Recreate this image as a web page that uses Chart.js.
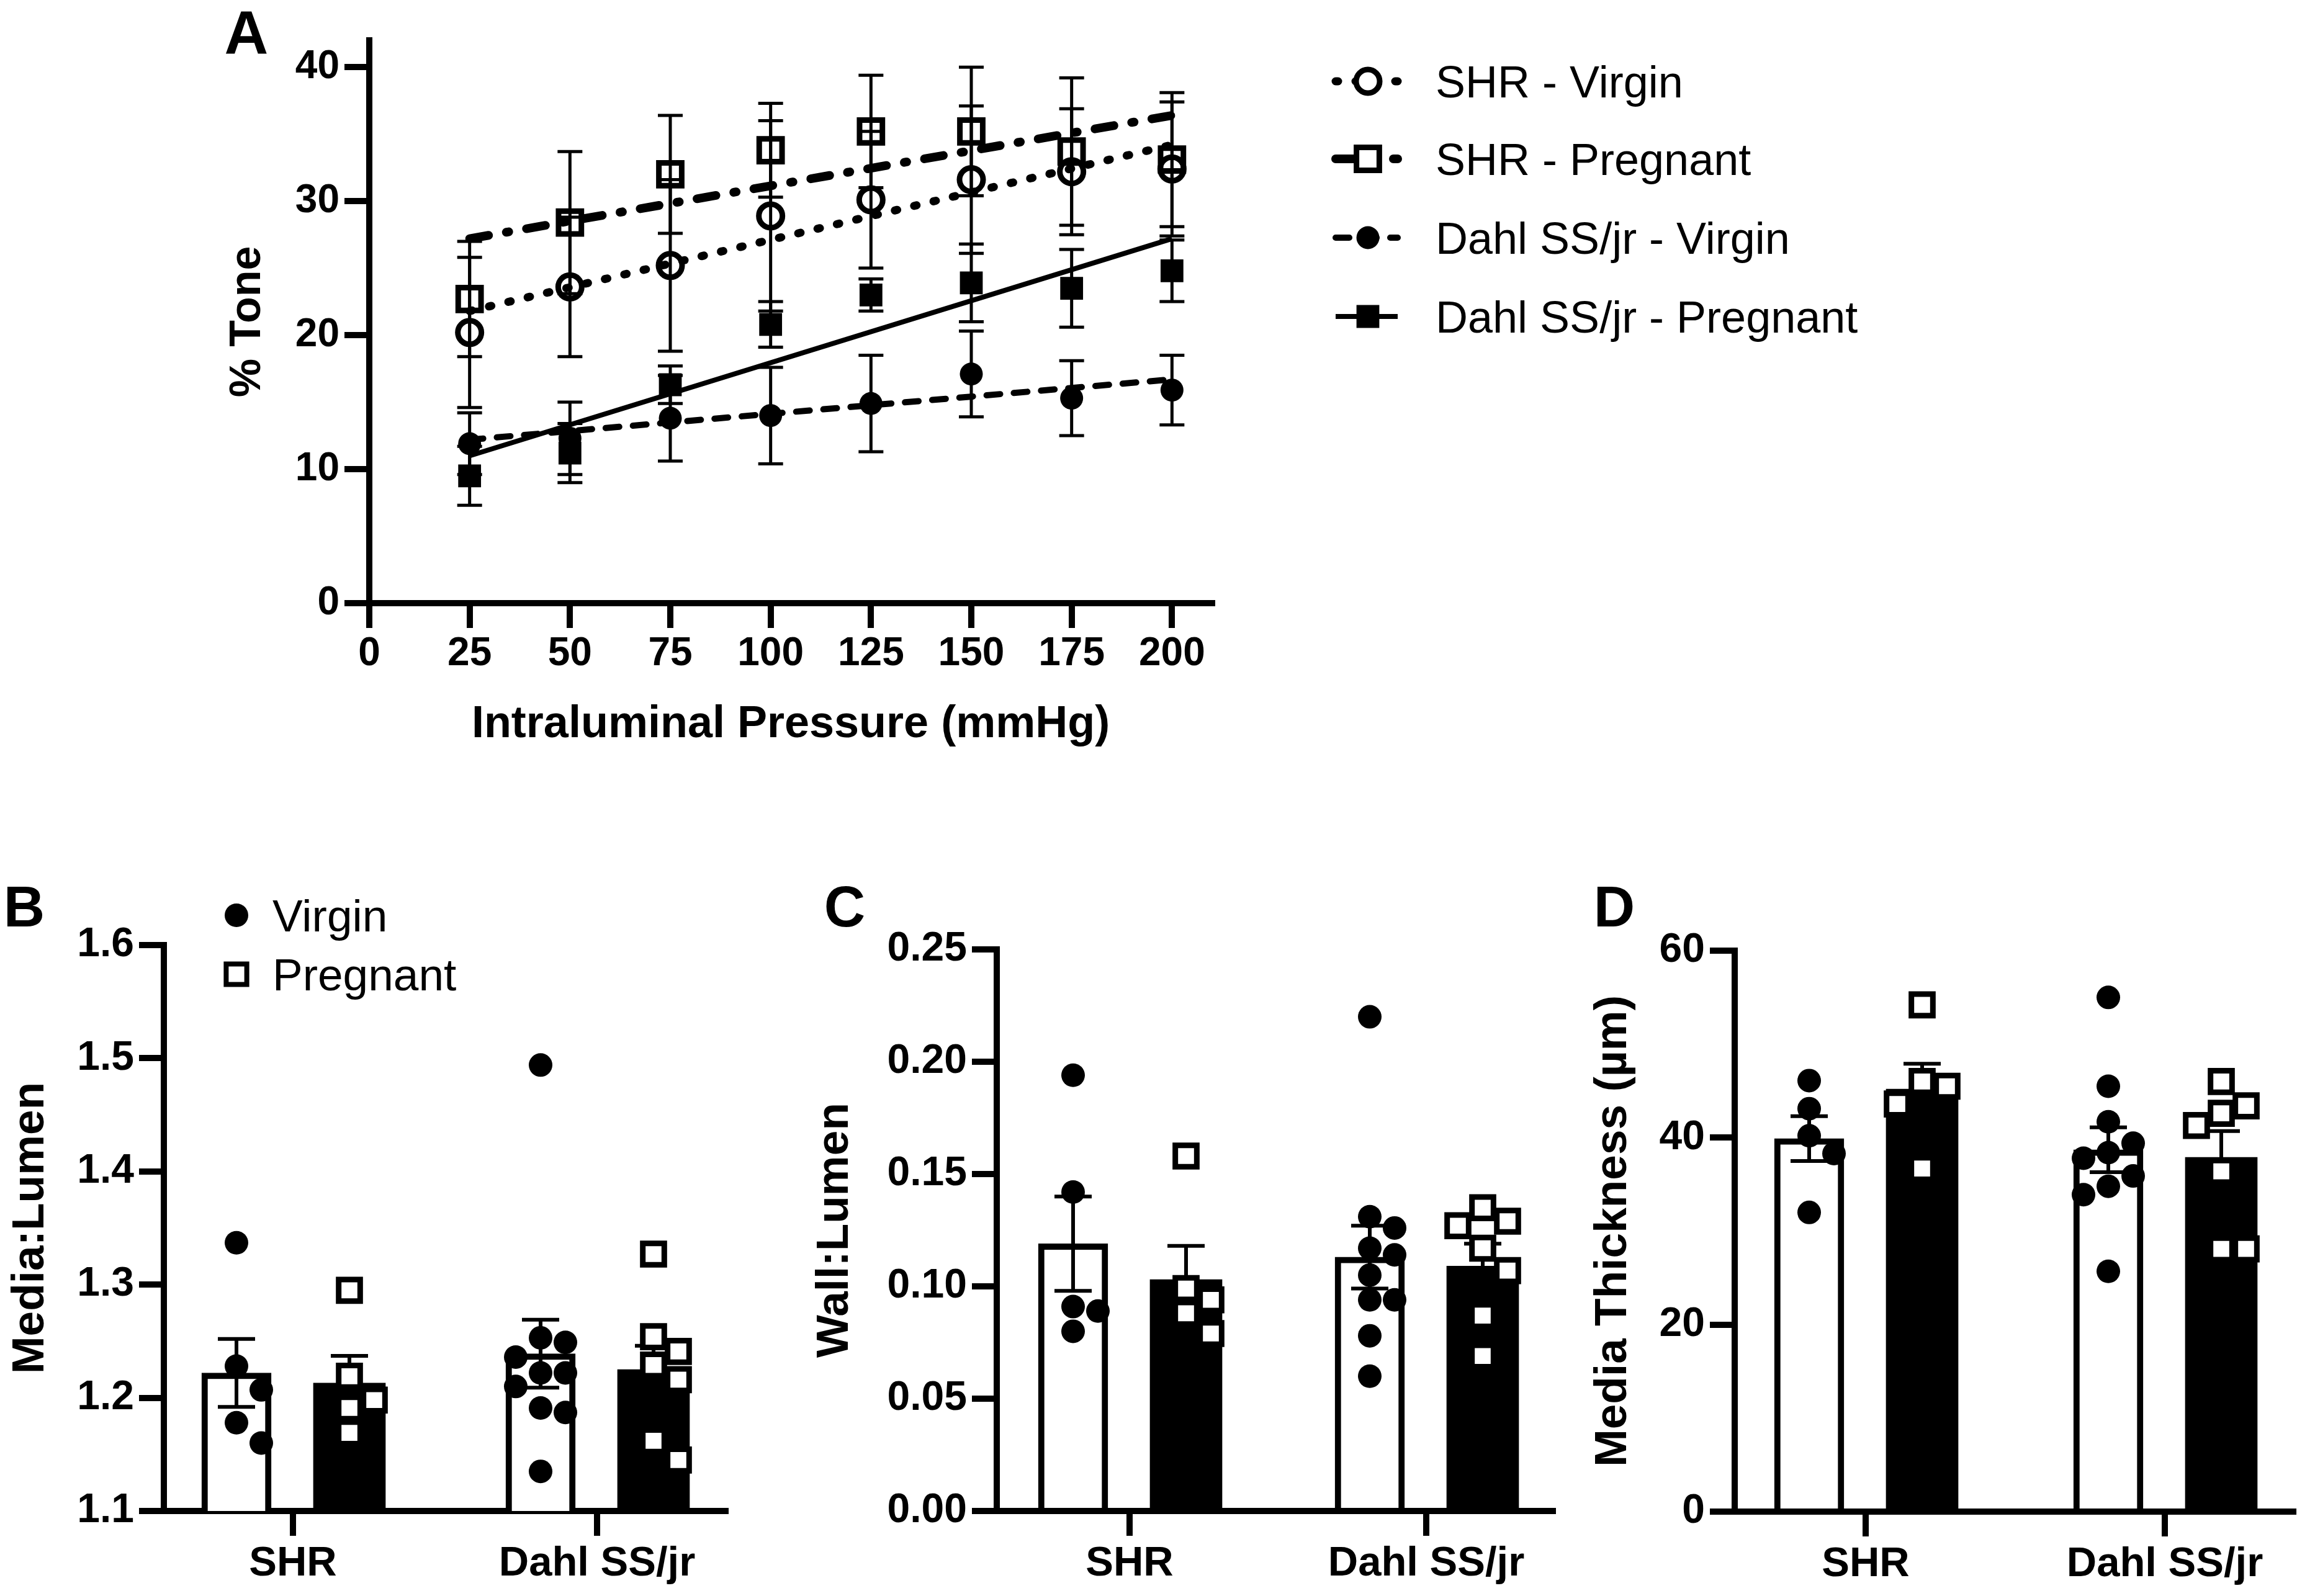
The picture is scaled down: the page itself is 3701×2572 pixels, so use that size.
<!DOCTYPE html>
<html>
<head>
<meta charset="utf-8">
<script src="https://cdn.jsdelivr.net/npm/chart.js@4.4.1/dist/chart.umd.min.js"></script>
<style>
  html, body { margin: 0; padding: 0; background: #fff; }
  body { position: relative; width: 3701px; height: 2572px; overflow: hidden; }
  canvas { position: absolute; }
</style>
</head>
<body>
<canvas id="panelA"></canvas>
<canvas id="panelB"></canvas>
<canvas id="panelC"></canvas>
<canvas id="panelD"></canvas>
<script>
// ---------- Panel A: % tone vs intraluminal pressure ----------
const pressure = [25, 50, 75, 100, 125, 150, 175, 200]
const pressureTicks = [0, 25, 50, 75, 100, 125, 150, 175, 200]
const toneTicks = [0, 10, 20, 30, 40]
const seriesNames = ["SHR - Virgin", "SHR - Pregnant", "Dahl SS/jr - Virgin", "Dahl SS/jr - Pregnant"]

const shrVirginTone = [20.2, 23.6, 25.2, 28.9, 30.1, 31.6, 32.2, 32.4]
const shrVirginSem = [5.6, 5.2, 6.4, 7.1, 5.1, 5.5, 4.7, 5.0]
const shrPregnantTone = [22.7, 28.4, 32.0, 33.8, 35.2, 35.2, 33.7, 33.1]
const shrPregnantSem = [4.3, 5.3, 4.4, 3.5, 4.2, 4.8, 5.5, 5.0]
const dahlVirginTone = [11.9, 12.3, 13.8, 14.0, 14.9, 17.1, 15.3, 15.9]
const dahlVirginSem = [2.3, 2.7, 3.2, 3.6, 3.6, 3.2, 2.8, 2.6]
const dahlPregnantTone = [9.5, 11.2, 16.3, 20.8, 23.0, 23.9, 23.5, 24.8]
const dahlPregnantSem = [2.2, 2.2, 1.4, 1.7, 1.2, 2.9, 2.9, 2.3]

const fitPressure = [25, 200]
const shrVirginFit = [21.8, 34.2]
const shrPregnantFit = [27.2, 36.4]
const dahlVirginFit = [12.2, 16.7]
const dahlPregnantFit = [11.0, 27.2]

// ---------- Panels B-D: structure ----------
const strains = ["SHR", "Dahl SS/jr"]
const groupNames = ["Virgin", "Pregnant"]

const mediaLumenTicks = [1.1, 1.2, 1.3, 1.4, 1.5, 1.6]
const mediaLumenVirgin = [1.222, 1.239]
const mediaLumenVirginSem = [0.030, 0.030]
const mediaLumenPregnant = [1.213, 1.225]
const mediaLumenPregnantSem = [0.024, 0.021]
const mediaLumenVirginPts = [
  [1.337, 1.228, 1.207, 1.178, 1.160],
  [1.494, 1.253, 1.249, 1.236, 1.222, 1.222, 1.210, 1.191, 1.187, 1.135],
]
const mediaLumenPregnantPts = [
  [1.295, 1.219, 1.198, 1.191, 1.169],
  [1.327, 1.254, 1.241, 1.229, 1.216, 1.162, 1.145],
]

const wallLumenTicks = [0, 0.05, 0.1, 0.15, 0.2, 0.25]
const wallLumenVirgin = [0.119, 0.113]
const wallLumenVirginSem = [0.021, 0.014]
const wallLumenPregnant = [0.103, 0.109]
const wallLumenPregnantSem = [0.015, 0.010]
const wallLumenVirginPts = [
  [0.194, 0.142, 0.091, 0.089, 0.080],
  [0.220, 0.131, 0.126, 0.117, 0.114, 0.105, 0.094, 0.094, 0.078, 0.060],
]
const wallLumenPregnantPts = [
  [0.158, 0.099, 0.094, 0.088, 0.079],
  [0.135, 0.129, 0.127, 0.117, 0.107, 0.087, 0.069],
]

const thicknessTicks = [0, 20, 40, 60]
const thicknessVirgin = [39.9, 38.7]
const thicknessVirginSem = [2.4, 2.4]
const thicknessPregnant = [45.2, 37.9]
const thicknessPregnantSem = [2.7, 2.8]
const thicknessVirginPts = [
  [46.1, 43.1, 40.2, 38.3, 32.0],
  [55.0, 45.5, 41.7, 39.4, 38.4, 37.8, 35.9, 34.8, 33.9, 25.7],
]
const thicknessPregnantPts = [
  [54.2, 46.0, 45.5, 43.6, 36.7],
  [46.0, 43.4, 42.6, 41.3, 36.4, 28.1, 28.1],
]

// ---------- shared look ----------
const FONT = "'Liberation Sans', Arial, Helvetica, sans-serif"
Chart.defaults.font.family = FONT
Chart.defaults.color = "#000"
Chart.defaults.animation = false

const BAR_SHIFT = 91 // px from category centre to each bar centre
const SLOT = 40 // px width of one scatter slot

function placeCanvas(id, box) {
  const c = document.getElementById(id)
  const w = box.right - box.left
  const h = box.bottom - box.top
  c.width = w
  c.height = h
  c.style.left = box.left + "px"
  c.style.top = box.top + "px"
  c.style.width = w + "px"
  c.style.height = h + "px"
  return c
}

function axisStyle(extra) {
  return Object.assign(
    {
      offset: false,
      border: { display: true, color: "#000", width: 10 },
      grid: {
        offset: false,
        drawOnChartArea: false,
        drawTicks: true,
        tickLength: 40,
        tickWidth: 10,
        tickColor: "#000",
        lineWidth: 10,
        color: "#000",
      },
    },
    extra
  )
}

/**
 * Error bars (mean +/- SEM) drawn right after their dataset
 */
const errorBarPlugin = {
  id: "errorBars",
  afterDatasetDraw(chart, args) {
    const ds = chart.data.datasets[args.index]
    if (!ds.errors) return
    const ctx = chart.ctx
    const y = chart.scales.y
    ctx.save()
    ctx.strokeStyle = "#000"
    ctx.lineWidth = ds.errorWidth
    ctx.setLineDash([])
    args.meta.data.forEach((el, i) => {
      const v = ds.data[i].y
      const e = ds.errors[i]
      const hi = y.getPixelForValue(v + e)
      const lo = y.getPixelForValue(v - e)
      ctx.beginPath()
      ctx.moveTo(el.x, hi)
      ctx.lineTo(el.x, lo)
      ctx.moveTo(el.x - ds.capHalf, hi)
      ctx.lineTo(el.x + ds.capHalf, hi)
      ctx.moveTo(el.x - ds.capHalf, lo)
      ctx.lineTo(el.x + ds.capHalf, lo)
      ctx.stroke()
    })
    ctx.restore()
  },
}

// draw extra text/symbols in page coordinates
function overlay(box, draw) {
  return {
    id: "overlay",
    afterDraw(chart) {
      const ctx = chart.ctx
      ctx.save()
      ctx.translate(-box.left, -box.top)
      draw(ctx)
      ctx.restore()
    },
  }
}

function capText(ctx, text, x, yMid, size, weight, align) {
  ctx.font = `${weight} ${size}px ${FONT}`
  ctx.fillStyle = "#000"
  ctx.textAlign = align
  ctx.textBaseline = "alphabetic"
  ctx.fillText(text, x, yMid + size * 0.358)
}

function marker(ctx, style, r, fill, border, x, y) {
  ctx.save()
  ctx.setLineDash([])
  ctx.fillStyle = fill
  ctx.strokeStyle = "#000"
  ctx.lineWidth = border
  ctx.beginPath()
  if (style === "circle") {
    ctx.arc(x, y, r, 0, Math.PI * 2)
  } else {
    const h = r * Math.SQRT1_2
    ctx.rect(x - h, y - h, 2 * h, 2 * h)
  }
  ctx.fill()
  if (border > 0) ctx.stroke()
  ctx.restore()
}

/**
 * Simple beeswarm: spread points that would overlap into side slots
 */
function swarm(values, center, pxPerY, pxPerX) {
  const order = values.map((v, i) => i).sort((a, b) => values[b] - values[a])
  const placed = []
  const out = new Array(values.length)
  const slots = [0, 1, -1, 2, -2, 3, -3]
  order.forEach((i) => {
    const v = values[i]
    for (const s of slots) {
      const free = placed.every((p) => {
        const dx = (s - p.s) * SLOT
        const dy = (v - p.v) * pxPerY
        return dx * dx + dy * dy >= SLOT * SLOT * 0.98
      })
      if (free) {
        placed.push({ s, v })
        out[i] = { x: center + (s * SLOT) / pxPerX, y: v }
        break
      }
    }
  })
  return out
}

// ---------- Panel A ----------
function buildPanelA() {
  const box = { left: 358, top: 0, right: 3080, bottom: 1211 }
  const area = { left: 595, top: 65, right: 1953, bottom: 972 }
  const canvas = placeCanvas("panelA", box)

  const toneSeries = [
    [shrVirginTone, shrVirginSem, shrVirginFit],
    [shrPregnantTone, shrPregnantSem, shrPregnantFit],
    [dahlVirginTone, dahlVirginSem, dahlVirginFit],
    [dahlPregnantTone, dahlPregnantSem, dahlPregnantFit],
  ]
  const styles = [
    { dash: [4, 28], width: 13, cap: "round", point: "circle", radius: 19, fill: "rgba(0,0,0,0)", border: 9 },
    { dash: [31, 29, 4, 29], width: 14, cap: "round", point: "rect", radius: 26, fill: "rgba(0,0,0,0)", border: 9 },
    { dash: [22, 22], width: 10, cap: "round", point: "circle", radius: 18.5, fill: "#000", border: 0 },
    { dash: [], width: 8, cap: "butt", point: "rect", radius: 26, fill: "#000", border: 0 },
  ]

  const datasets = []
  toneSeries.forEach(([vals, sem, fit], k) => {
    const st = styles[k]
    datasets.push({
      label: seriesNames[k],
      data: pressure.map((x, i) => ({ x, y: vals[i] })),
      showLine: false,
      pointStyle: st.point,
      pointRadius: st.radius,
      pointBorderWidth: st.border,
      pointBackgroundColor: st.fill,
      pointBorderColor: "#000",
      errors: sem,
      errorWidth: 5,
      capHalf: 20,
      clip: false,
    })
    datasets.push({
      label: seriesNames[k] + " fit",
      data: fitPressure.map((x, i) => ({ x, y: fit[i] })),
      showLine: true,
      pointRadius: 0,
      borderColor: "#000",
      borderWidth: st.width,
      borderDash: st.dash,
      borderCapStyle: st.cap,
      clip: false,
    })
  })

  const legendRows = [131, 256, 383, 510]
  const legend = overlay(box, (ctx) => {
    capText(ctx, "A", 397, 51, 98, "bold", "center")
    styles.forEach((st, k) => {
      const y = legendRows[k]
      ctx.save()
      ctx.strokeStyle = "#000"
      ctx.lineWidth = st.width
      ctx.lineCap = st.cap
      ctx.setLineDash(st.dash)
      ctx.beginPath()
      ctx.moveTo(2152, y)
      ctx.lineTo(2252, y)
      ctx.stroke()
      ctx.restore()
      marker(ctx, st.point, st.radius, st.fill === "#000" ? "#000" : "#fff", st.border, 2204, y)
      capText(ctx, seriesNames[k], 2313, y, 72, "normal", "left")
    })
  })

  new Chart(canvas, {
    type: "scatter",
    data: { datasets },
    options: {
      responsive: false,
      events: [],
      layout: {
        autoPadding: false,
        padding: { left: 0, top: area.top - box.top, right: box.right - area.right, bottom: 0 },
      },
      plugins: { legend: { display: false }, tooltip: { enabled: false } },
      scales: {
        x: axisStyle({
          type: "linear",
          min: 0,
          max: 210,
          afterBuildTicks: (s) => {
            s.ticks = pressureTicks.map((v) => ({ value: v }))
          },
          afterFit: (s) => {
            s.height = box.bottom - area.bottom
          },
          ticks: {
            autoSkip: false,
            maxRotation: 0,
            minRotation: 0,
            padding: 4,
            color: "#000",
            font: { size: 64, weight: "bold" },
            callback: (v) => String(v),
          },
          title: {
            display: true,
            text: "Intraluminal Pressure (mmHg)",
            color: "#000",
            padding: 0,
            font: { size: 72, weight: "bold" },
          },
        }),
        y: axisStyle({
          type: "linear",
          min: 0,
          max: 42,
          afterBuildTicks: (s) => {
            s.ticks = toneTicks.map((v) => ({ value: v }))
          },
          afterFit: (s) => {
            s.width = area.left - box.left
          },
          ticks: {
            padding: 8,
            color: "#000",
            font: { size: 64, weight: "bold" },
            callback: (v) => String(v),
          },
          title: {
            display: true,
            text: "% Tone",
            color: "#000",
            padding: 0,
            font: { size: 70, weight: "bold" },
          },
        }),
      },
    },
    plugins: [errorBarPlugin, legend],
  })
}

// ---------- Panels B-D ----------
const barPanels = [
  {
    id: "panelB",
    letter: "B",
    letterX: 39,
    titleX: 50,
    box: { top: 1400, right: 1220, bottom: 2572 },
    area: { left: 264, top: 1523, right: 1169, bottom: 2435 },
    catPx: [472, 962],
    title: "Media:Lumen",
    yMin: 1.1,
    yMax: 1.6,
    ticks: mediaLumenTicks,
    decimals: 1,
    virgin: mediaLumenVirgin,
    virginSem: mediaLumenVirginSem,
    pregnant: mediaLumenPregnant,
    pregnantSem: mediaLumenPregnantSem,
    virginPts: mediaLumenVirginPts,
    pregnantPts: mediaLumenPregnantPts,
    legend: true,
  },
  {
    id: "panelC",
    letter: "C",
    letterX: 1361,
    titleX: 1346,
    box: { top: 1400, right: 2545, bottom: 2572 },
    area: { left: 1606, top: 1530, right: 2502, bottom: 2435 },
    catPx: [1820, 2298],
    title: "Wall:Lumen",
    yMin: 0,
    yMax: 0.25,
    ticks: wallLumenTicks,
    decimals: 2,
    virgin: wallLumenVirgin,
    virginSem: wallLumenVirginSem,
    pregnant: wallLumenPregnant,
    pregnantSem: wallLumenPregnantSem,
    virginPts: wallLumenVirginPts,
    pregnantPts: wallLumenPregnantPts,
    legend: false,
  },
  {
    id: "panelD",
    letter: "D",
    letterX: 2601,
    titleX: 2600,
    box: { top: 1400, right: 3701, bottom: 2572 },
    area: { left: 2795, top: 1532, right: 3695, bottom: 2436 },
    catPx: [3006, 3488],
    title: "Media Thickness (µm)",
    yMin: 0,
    yMax: 60,
    ticks: thicknessTicks,
    decimals: 0,
    virgin: thicknessVirgin,
    virginSem: thicknessVirginSem,
    pregnant: thicknessPregnant,
    pregnantSem: thicknessPregnantSem,
    virginPts: thicknessVirginPts,
    pregnantPts: thicknessPregnantPts,
    legend: false,
  },
]

function buildBarPanel(p) {
  const titleSize = 73
  const box = Object.assign({ left: Math.round(p.titleX - (titleSize * 1.2) / 2) }, p.box)
  const area = p.area
  const canvas = placeCanvas(p.id, box)

  const unit = p.catPx[1] - p.catPx[0]
  const xMin = 1 - (p.catPx[0] - area.left) / unit
  const xMax = strains.length + (area.right - p.catPx[1]) / unit
  const shift = BAR_SHIFT / unit
  const pxPerY = (area.bottom - area.top) / (p.yMax - p.yMin)

  const virginPts = p.virginPts.flatMap((vals, i) => swarm(vals, i + 1 - shift, pxPerY, unit))
  const pregnantPts = p.pregnantPts.flatMap((vals, i) => swarm(vals, i + 1 + shift, pxPerY, unit))

  const extras = overlay(box, (ctx) => {
    capText(ctx, p.letter, p.letterX, 1460, 92, "bold", "center")
    if (p.legend) {
      marker(ctx, "circle", 19, "#000", 0, 381, 1475)
      capText(ctx, groupNames[0], 439, 1475, 73, "normal", "left")
      marker(ctx, "rect", 23.5, "#fff", 8, 381, 1570)
      capText(ctx, groupNames[1], 439, 1570, 73, "normal", "left")
    }
  })

  new Chart(canvas, {
    type: "scatter",
    data: {
      datasets: [
        {
          type: "bar",
          label: groupNames[0],
          data: strains.map((s, i) => ({ x: i + 1 - shift, y: p.virgin[i] })),
          backgroundColor: "#fff",
          borderColor: "#000",
          borderWidth: 10,
          borderSkipped: "start",
          barThickness: 112,
          grouped: false,
          errors: p.virginSem,
          errorWidth: 6,
          capHalf: 30,
          order: 3,
        },
        {
          type: "bar",
          label: groupNames[1],
          data: strains.map((s, i) => ({ x: i + 1 + shift, y: p.pregnant[i] })),
          backgroundColor: "#000",
          borderColor: "#000",
          borderWidth: 0,
          barThickness: 116,
          grouped: false,
          errors: p.pregnantSem,
          errorWidth: 6,
          capHalf: 30,
          order: 3,
        },
        {
          label: groupNames[0] + " points",
          data: virginPts,
          pointStyle: "circle",
          pointRadius: 19,
          pointBackgroundColor: "#000",
          pointBorderWidth: 0,
          clip: false,
          order: 1,
        },
        {
          label: groupNames[1] + " points",
          data: pregnantPts,
          pointStyle: "rect",
          pointRadius: 24.5,
          pointBackgroundColor: "#fff",
          pointBorderColor: "#000",
          pointBorderWidth: 9,
          clip: false,
          order: 1,
        },
      ],
    },
    options: {
      responsive: false,
      events: [],
      layout: {
        autoPadding: false,
        padding: { left: 0, top: area.top - box.top, right: box.right - area.right, bottom: 0 },
      },
      plugins: { legend: { display: false }, tooltip: { enabled: false } },
      scales: {
        x: axisStyle({
          type: "linear",
          min: xMin,
          max: xMax,
          afterBuildTicks: (s) => {
            s.ticks = strains.map((n, i) => ({ value: i + 1 }))
          },
          afterFit: (s) => {
            s.height = box.bottom - area.bottom
          },
          ticks: {
            autoSkip: false,
            maxRotation: 0,
            minRotation: 0,
            padding: 5,
            color: "#000",
            font: { size: 67, weight: "bold" },
            callback: (v, i) => strains[i],
          },
        }),
        y: axisStyle({
          type: "linear",
          min: p.yMin,
          max: p.yMax,
          afterBuildTicks: (s) => {
            s.ticks = p.ticks.map((v) => ({ value: v }))
          },
          afterFit: (s) => {
            s.width = area.left - box.left
          },
          ticks: {
            padding: 8,
            color: "#000",
            font: { size: 66, weight: "bold" },
            callback: (v) => Number(v).toFixed(p.decimals),
          },
          title: {
            display: true,
            text: p.title,
            color: "#000",
            padding: 0,
            font: { size: titleSize, weight: "bold" },
          },
        }),
      },
    },
    plugins: [errorBarPlugin, extras],
  })
}

buildPanelA()
barPanels.forEach(buildBarPanel)
</script>
</body>
</html>
